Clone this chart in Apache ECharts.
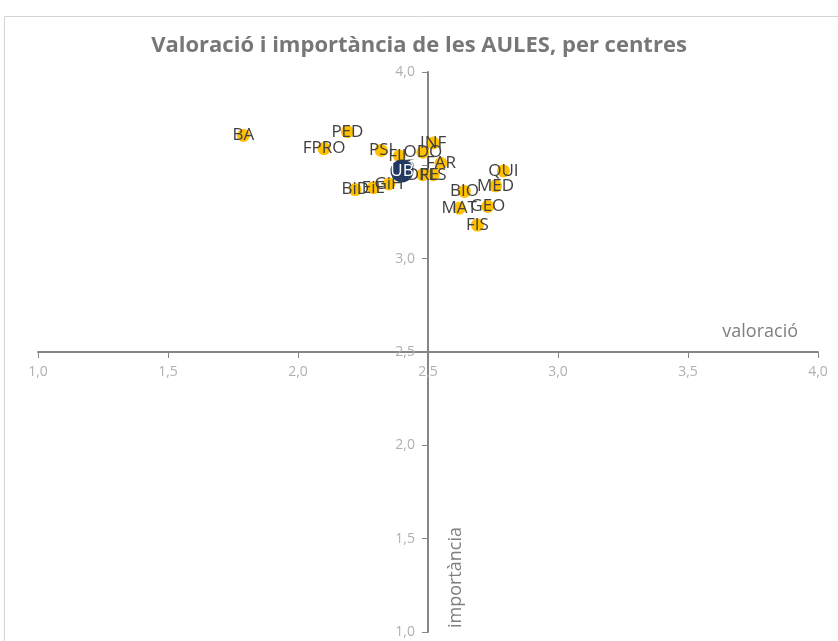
<!DOCTYPE html>
<html>
<head>
<meta charset="utf-8">
<script src="https://cdn.jsdelivr.net/npm/echarts@6/dist/echarts.min.js"></script>
<style>
  html, body { margin: 0; padding: 0; background: #fff; }
  #chart { width: 838px; height: 641px; }
</style>
</head>
<body>
<div id="chart"></div>
<script>
// centres: valoració (x) i importància (y)
const centres = ['BA', 'PED', 'FPRO', 'PSI', 'FIL', 'ODO', 'INF', 'FAR', 'DRE', 'FLS',
  'QUI', 'MED', 'BIO', 'MAT', 'GEO', 'FIS', 'BiD', 'EiE', 'GiH']
const valoracio = [1.79, 2.19, 2.10, 2.32, 2.39, 2.48, 2.52, 2.55, 2.48, 2.52,
  2.79, 2.76, 2.64, 2.62, 2.73, 2.69, 2.22, 2.29, 2.35]
const importancia = [3.66, 3.68, 3.59, 3.58, 3.55, 3.57, 3.62, 3.51, 3.45, 3.45,
  3.47, 3.39, 3.36, 3.27, 3.28, 3.18, 3.37, 3.38, 3.40]
const totalUB = { name: 'UB', valoracio: 2.40, importancia: 3.47 }

const AXIS_MIN = 1, AXIS_MAX = 4, AXIS_STEP = 0.5
const fmt = v => v.toFixed(1).replace('.', ',')

const chart = echarts.init(document.getElementById('chart'), null, { renderer: 'canvas' })

const gridLeft = 38, gridRight = 20, gridTop = 72, gridBottom = 9
const gridW = 838 - gridLeft - gridRight
const gridH = 641 - gridTop - gridBottom

const axisLine = { show: true, onZero: false, lineStyle: { color: '#868686', width: 2 } }
const axisLabel = { color: '#b0b0b0', fontSize: 14, fontFamily: 'Open Sans', margin: 13, formatter: fmt }

const option = {
  animation: false,
  title: {
    text: 'Valoració i importància de les AULES, per centres',
    left: 'center',
    top: 30,
    textStyle: { color: '#777777', fontSize: 22, fontWeight: 'bold', fontFamily: 'Open Sans' },
  },
  graphic: [
    { type: 'rect', shape: { x: 4.5, y: 16.5, width: 900, height: 700 }, style: { fill: 'none', stroke: '#d4d4d4', lineWidth: 1 }, z: -1 },
    { type: 'text', right: 40, top: 323, style: { text: 'valoració', fill: '#7f7f7f', fontSize: 18, fontFamily: 'Open Sans' } },
    { type: 'text', left: 447, top: 527, rotation: Math.PI / 2, style: { text: 'importància', fill: '#7f7f7f', fontSize: 18, fontFamily: 'Open Sans' } },
  ],
  grid: { left: gridLeft, right: gridRight, top: gridTop, bottom: gridBottom, containLabel: false },
  xAxis: {
    type: 'value', min: AXIS_MIN, max: AXIS_MAX, interval: AXIS_STEP,
    position: 'bottom', offset: -gridH / 2,
    axisLine, axisTick: { show: true, length: 6, lineStyle: { color: '#868686', width: 1 } },
    axisLabel, splitLine: { show: false },
  },
  yAxis: {
    type: 'value', min: AXIS_MIN, max: AXIS_MAX, interval: AXIS_STEP,
    position: 'left', offset: -gridW / 2,
    axisLine, axisTick: { show: true, length: 6, lineStyle: { color: '#868686', width: 1 } },
    axisLabel, splitLine: { show: false },
  },
  series: [
    {
      type: 'scatter',
      symbolSize: 13,
      itemStyle: { color: '#ffc000', opacity: 1 },
      label: {
        show: true, position: 'inside', formatter: p => p.data[2],
        color: '#404040', fontSize: 17, fontFamily: 'Open Sans',
      },
      data: centres.map((c, i) => [valoracio[i], importancia[i], c]),
    },
    {
      type: 'scatter',
      symbolSize: 23,
      itemStyle: { color: '#1f3864', opacity: 1 },
      label: {
        show: true, position: 'inside', formatter: p => p.data[2],
        color: '#ffffff', fontSize: 17, fontFamily: 'Open Sans',
      },
      data: [[totalUB.valoracio, totalUB.importancia, totalUB.name]],
    },
  ],
}

chart.setOption(option)
window.addEventListener('resize', () => chart.resize())
</script>
</body>
</html>
